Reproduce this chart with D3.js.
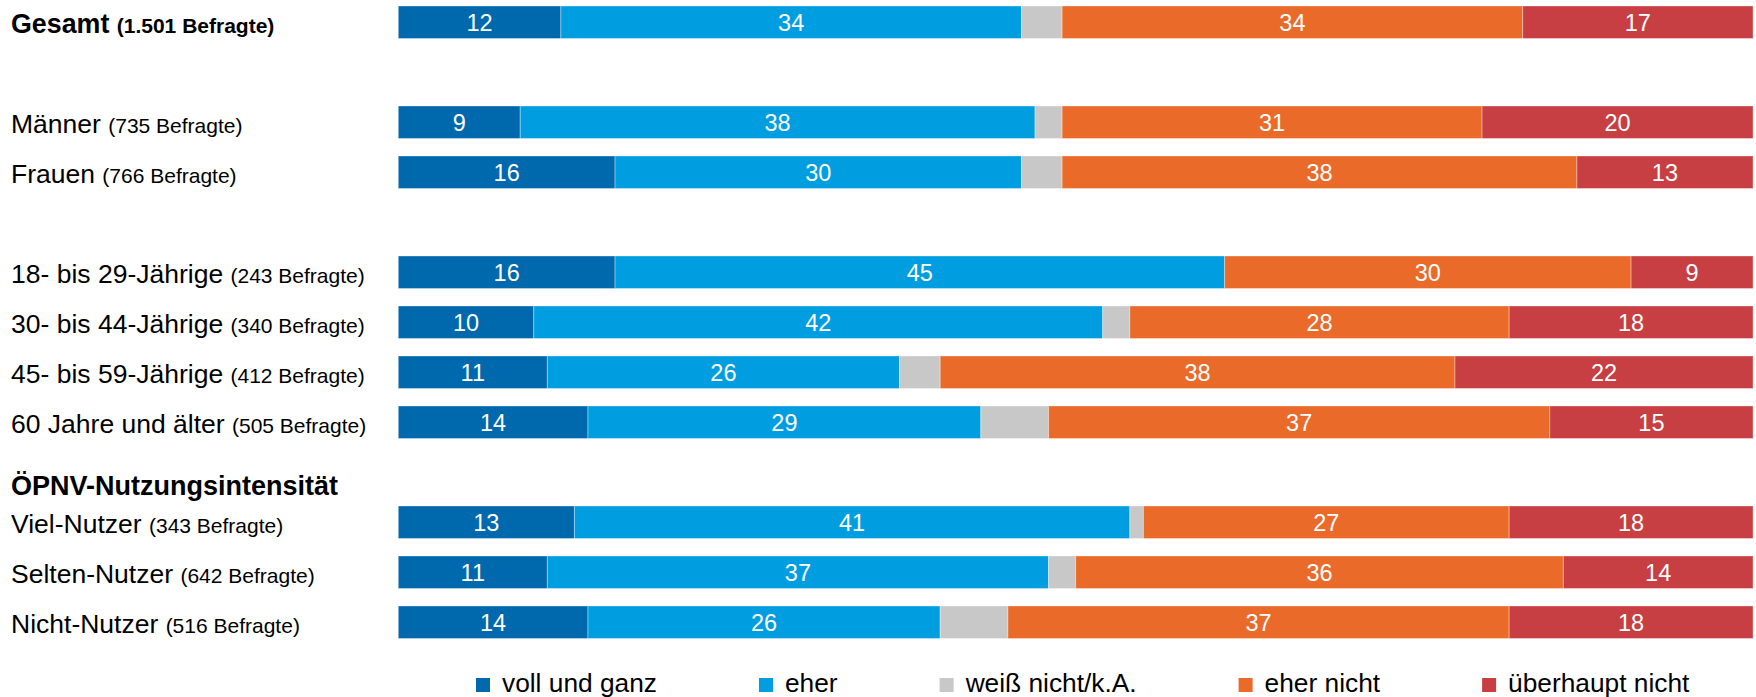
<!DOCTYPE html>
<html lang="de">
<head>
<meta charset="utf-8">
<script src="https://cdn.jsdelivr.net/npm/d3@7"></script>
<style>
  html, body { margin: 0; padding: 0; background: #ffffff; }
  svg { display: block; font-family: "Liberation Sans", Arial, sans-serif; }
</style>
</head>
<body>
<svg id="chart" width="1756" height="697"></svg>
<script>
// Zustimmung nach Befragtengruppen (Anteile in Prozent)
const categories = [
  "Gesamt", "Männer", "Frauen",
  "18- bis 29-Jährige", "30- bis 44-Jährige", "45- bis 59-Jährige", "60 Jahre und älter",
  "Viel-Nutzer", "Selten-Nutzer", "Nicht-Nutzer"
];
const respondents = ["1.501", "735", "766", "243", "340", "412", "505", "343", "642", "516"];

const vollUndGanz     = [12,  9, 16, 16, 10, 11, 14, 13, 11, 14];
const eher            = [34, 38, 30, 45, 42, 26, 29, 41, 37, 26];
const weissNicht      = [ 3,  2,  3,  0,  2,  3,  5,  1,  2,  5];
const eherNicht       = [34, 31, 38, 30, 28, 38, 37, 27, 36, 37];
const ueberhauptNicht = [17, 20, 13,  9, 18, 22, 15, 18, 14, 18];

const seriesNames  = ["voll und ganz", "eher", "weiß nicht/k.A.", "eher nicht", "überhaupt nicht"];
const seriesValues = [vollUndGanz, eher, weissNicht, eherNicht, ueberhauptNicht];
const seriesColors = ["#0068ad", "#009ee0", "#c8c8c8", "#ea6a2a", "#c73f42"];
const seriesLabelled = [true, true, false, true, true];

// Gruppen der Zeilen; zwischen den Gruppen bleibt eine Zeile frei
const groups = [
  { title: null, items: ["Gesamt"] },
  { title: null, items: ["Männer", "Frauen"] },
  { title: null, items: ["18- bis 29-Jährige", "30- bis 44-Jährige", "45- bis 59-Jährige", "60 Jahre und älter"] },
  { title: "ÖPNV-Nutzungsintensität", items: ["Viel-Nutzer", "Selten-Nutzer", "Nicht-Nutzer"] }
];

const slots = [];
groups.forEach((g, gi) => {
  if (gi > 0) slots.push(g.title ? "title:" + g.title : "gap:" + gi);
  g.items.forEach(c => slots.push(c));
});

const rows = categories.map((c, i) => {
  const r = { category: c, n: respondents[i] };
  seriesNames.forEach((s, si) => { r[s] = seriesValues[si][i]; });
  return r;
});

const svg = d3.select("#chart");

const x = d3.scaleLinear().domain([0, 100]).range([398.3, 1753]);
const y = d3.scaleBand().domain(slots).range([-2.75, 647.25])
  .paddingInner(0.35).paddingOuter(0.175);

const stack = d3.stack().keys(seriesNames);
const stacked = stack(rows);

const layers = svg.append("g").selectAll("g.layer")
  .data(stacked)
  .join("g")
  .attr("class", "layer")
  .attr("fill", (d, i) => seriesColors[i]);

layers.selectAll("rect")
  .data(d => d.filter(p => p[1] - p[0] > 0))
  .join("rect")
  .attr("x", p => x(p[0]))
  .attr("y", p => y(p.data.category))
  .attr("width", p => x(p[1]) - x(p[0]))
  .attr("height", y.bandwidth())
  .attr("stroke", "rgba(255,255,255,0.35)")
  .attr("stroke-width", 1);

// Werte in den Segmenten
const valueSize = 23.5;
layers.each(function (layer, li) {
  if (!seriesLabelled[li]) return;
  d3.select(this).selectAll("text")
    .data(layer.filter(p => p[1] - p[0] > 0))
    .join("text")
    .attr("x", p => (x(p[0]) + x(p[1])) / 2)
    .attr("y", p => y(p.data.category) + y.bandwidth() / 2 + 9)
    .attr("text-anchor", "middle")
    .attr("fill", "#ffffff")
    .style("font-size", valueSize + "px")
    .text(p => p[1] - p[0]);
});

// Zeilenbeschriftungen
const labelG = svg.append("g");
rows.forEach((r, i) => {
  const bold = i === 0;
  const t = labelG.append("text")
    .attr("x", 11)
    .attr("y", y(r.category) + y.bandwidth() / 2 + 11)
    .attr("fill", "#000000")
    .style("font-weight", bold ? "bold" : "normal");
  t.append("tspan").style("font-size", bold ? "26.8px" : "26.5px").text(r.category + " ");
  t.append("tspan").style("font-size", "21px").text("(" + r.n + " Befragte)");
});

// Gruppenüberschriften
groups.filter(g => g.title).forEach(g => {
  const key = "title:" + g.title;
  labelG.append("text")
    .attr("x", 11)
    .attr("y", y(key) + y.bandwidth() / 2 + 23)
    .attr("fill", "#000000")
    .style("font-weight", "bold")
    .style("font-size", "27px")
    .text(g.title);
});

// Legende
const legend = svg.append("g").attr("transform", "translate(476, 0)");
let lx = 0;
seriesNames.forEach((s, i) => {
  const item = legend.append("g").attr("transform", `translate(${lx}, 0)`);
  item.append("rect")
    .attr("x", 0).attr("y", 678)
    .attr("width", 14).attr("height", 14)
    .attr("fill", seriesColors[i]);
  const txt = item.append("text")
    .attr("x", 26).attr("y", 692)
    .attr("fill", "#000000")
    .style("font-size", "26.3px")
    .text(s);
  lx += 26 + txt.node().getComputedTextLength() + 102;
});
</script>
</body>
</html>
